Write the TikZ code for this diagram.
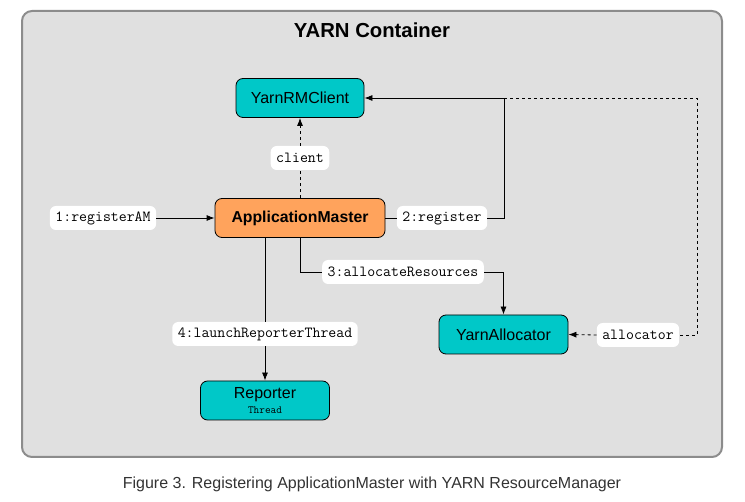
\documentclass[tikz,border=0pt]{standalone}
\usepackage{fontspec}
\setmainfont{Liberation Sans}
\usetikzlibrary{arrows.meta}
\definecolor{cont}{HTML}{E0E0E0}
\definecolor{contb}{HTML}{8C8C8C}
\definecolor{cyanbox}{HTML}{00C8C8}
\definecolor{orangebox}{HTML}{FFA35C}
\definecolor{captext}{HTML}{333333}
\begin{document}
\begin{tikzpicture}[x=1pt,y=-1pt,
  box/.style={draw=black, line width=0.8pt, rounded corners=7pt, fill=cyanbox,
    minimum width=128pt, minimum height=39pt, inner sep=0pt,
    font=\fontsize{16}{18}\selectfont},
  lbl/.style={fill=white, rounded corners=6pt, inner xsep=5.5pt, inner ysep=0pt,
    minimum height=24pt, font=\ttfamily\fontsize{15.4}{17}\selectfont},
  conn/.style={line width=0.8pt},
  tip/.style={-{Latex[length=8pt,width=6pt]}},
]
\useasboundingbox (0,0) rectangle (745,502);
\draw[contb, line width=2pt, fill=cont, rounded corners=10pt] (22,11) rectangle (722,457);
\node[font=\bfseries\fontsize{20.3}{22}\selectfont] (title) at (372,30) {YARN Container};

\node[box] (rm) at (300,98) {YarnRMClient};
\node[box, fill=orangebox, minimum width=170pt, font=\bfseries\fontsize{15.8}{18}\selectfont] (am) at (300,218) {ApplicationMaster};
\node[box, minimum width=129pt] (alloc) at (503.5,334.5) {YarnAllocator};
\node[box, minimum width=129pt, align=center] (rep) at (265,400.5) {Reporter\\[-3pt]{\ttfamily\fontsize{11}{12}\selectfont Thread}};

\node[lbl] (l1) at (103,218) {1:registerAM};
\node[lbl] (lc) at (300,158) {client};
\node[lbl] (l2) at (442,218) {2:register};
\node[lbl] (l3) at (403,272) {3:allocateResources};
\node[lbl] (l4) at (265,334) {4:launchReporterThread};
\node[lbl] (la) at (638,335) {allocator};

\coordinate (c2) at (504,98);
\coordinate (cd) at (697,98);

\draw[conn,tip] (l1.east) -- (am.west);
\draw[conn] (am.east) -- (l2.west);
\draw[conn,tip] (l2.east) -| (c2) -- (rm.east);
\draw[conn,dashed] (c2) -- (cd) |- (la.east);
\draw[conn,dashed,tip] (la.west) -- (alloc.east);
\draw[conn,dashed] (am.north) -- (lc.south);
\draw[conn,dashed,tip] (lc.north) -- (rm.south);
\draw[conn] (am.south) |- (l3.west);
\draw[conn,tip] (l3.east) -| (alloc.north);
\draw[conn] (l4.north |- am.south) -- (l4.north);
\draw[conn,tip] (l4.south) -- (rep.north);

\node[text=captext, font=\fontsize{16}{18}\selectfont] (cap) at (372,484) {Figure 3. Registering ApplicationMaster with YARN ResourceManager};
\end{tikzpicture}
\end{document}
